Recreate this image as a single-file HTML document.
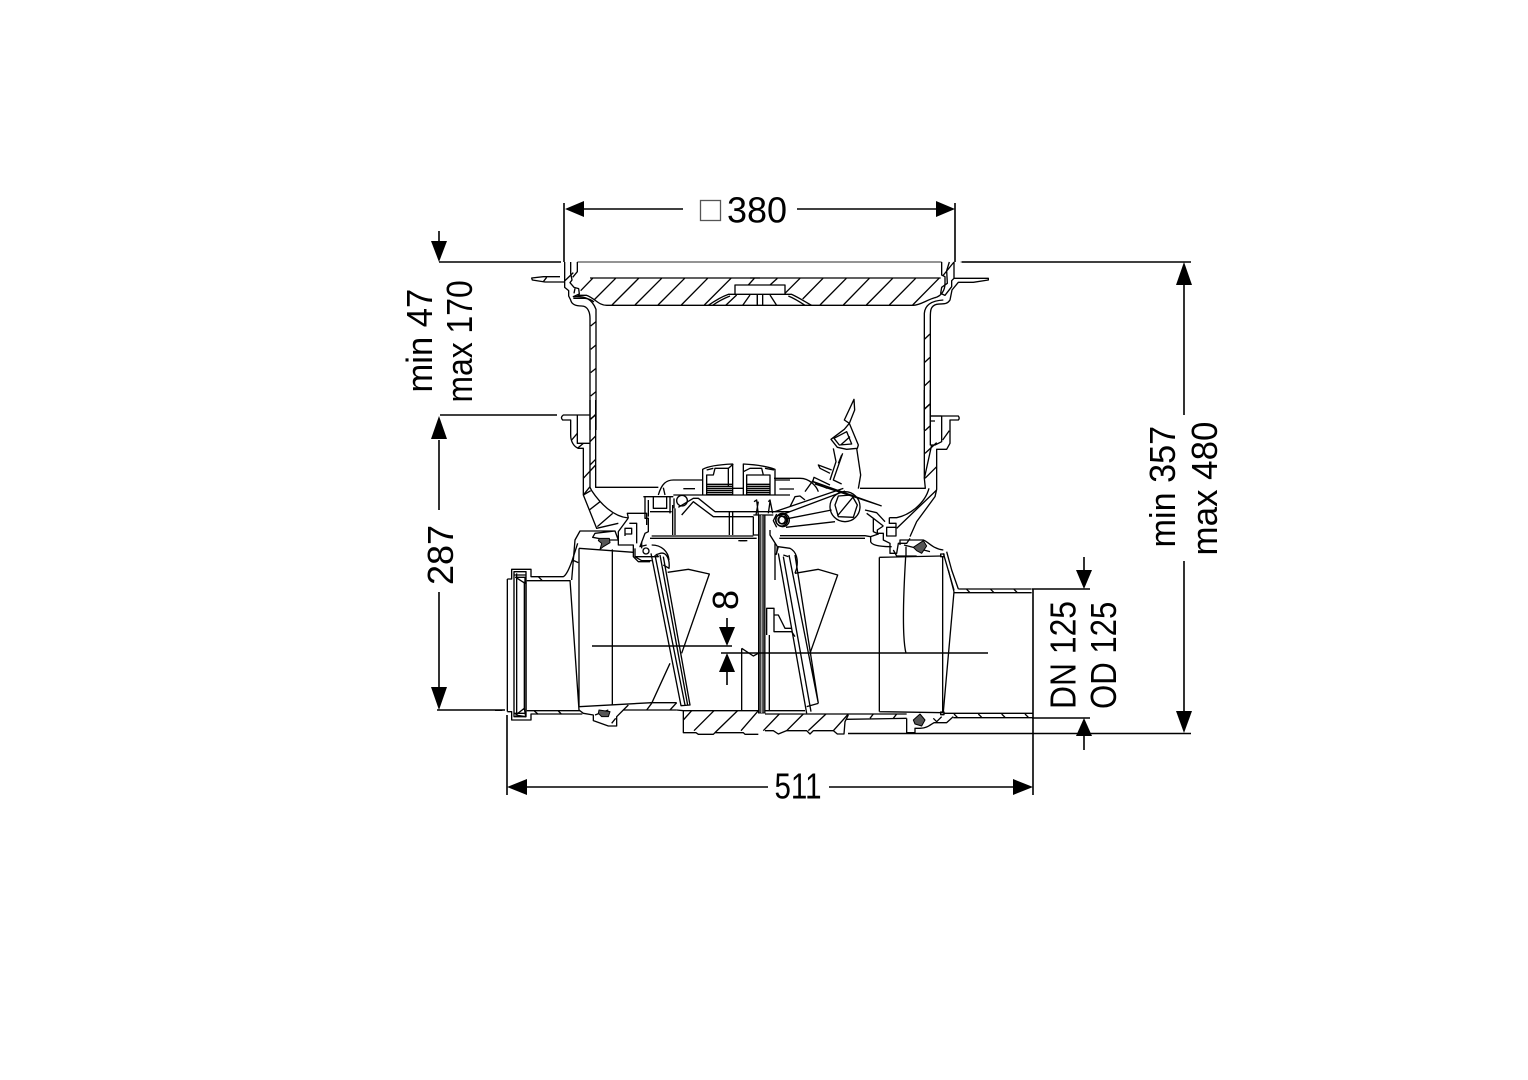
<!DOCTYPE html>
<html><head><meta charset="utf-8"><style>
html,body{margin:0;padding:0;background:#fff}
svg{display:block}
text{font-family:"Liberation Sans",sans-serif;font-size:36px;fill:#000}
.z path,.z circle,.z polygon,.z rect{fill:none;stroke:#000;stroke-width:4;stroke-linejoin:round}
.z .g{stroke:#555}
.z .f{fill:#555;stroke-width:3}
.d path{fill:none;stroke:#000;stroke-width:1.6}
.a polygon{fill:#000;stroke:none}
</style></head><body>
<svg width="1528" height="1080" viewBox="0 0 1528 1080" xmlns="http://www.w3.org/2000/svg">
<rect width="1528" height="1080" fill="#fff"/>

<!-- zoom 1 : top left -->
<g class="z" transform="translate(520,250) scale(.33333)">
<path class="g" d="M172 36H720" stroke-width="5"/>
<path d="M120 80H70L35 84L37 90L75 96H135M80 82L70 95"/>
<path d="M134 36V92L134 112L146 122L146 138L152 150C155 165 170 168 185 168C205 168 210 190 210 205V540"/>
<path d="M152 36V70L156 90L150 98L162 112L176 116L178 132L160 140C195 138 215 145 228 178L228 205V540"/>
<path d="M172 36V65L158 82M160 68L135 92"/>
<path d="M160 145H195C205 146 215 150 222 156M172 136H200C225 145 235 166 260 166H720"/>
<path d="M165 115L162 130M210 84H720M218 85L182 122M287 85L222 150M356 85L276 165M425 85L345 165M494 85L414 165M563 85L484 165M633 85L553 165M703 85L685 105M650 135L617 166M690 135L668 166M712 135V166"/>
<path d="M720 105H645V133H720M645 133H625C605 140 585 152 565 166M630 138C610 146 592 156 578 166"/>
<path d="M212 228L228 215M212 298L228 285M212 368L228 355M212 438L228 425M212 508L228 492"/>
</g>

<!-- zoom 2 : top right -->
<g class="z" transform="translate(750,250) scale(.33333)">
<path class="g" d="M0 36H575M632 36H720" stroke-width="5"/>
<path d="M0 84H572M30 166H490C510 166 530 150 555 143C575 138 585 120 585 100V80L575 75V36"/>
<path d="M598 36L590 62L592 100L575 112L572 130L585 136L605 110V92L612 85V36M612 36L578 78"/>
<path d="M612 85H715V90L670 97H625L606 120L600 150C590 165 580 160 560 163C540 168 541 185 541 205V540"/>
<path d="M523 540V190C525 165 545 152 580 150"/>
<path d="M150 85L105 130M219 85L158 147M289 85L210 165M358 85L280 165M428 85L349 165M497 85L418 165M567 85L488 165"/>
<path d="M30 105H105V133H30M105 133H125C145 142 165 155 185 166M115 138C135 146 150 156 165 166M22 135V166M38 135V166M60 135L80 166M60 105L82 85"/>
<path d="M523 268L540 252M523 338L540 322M523 408L540 392M523 478L540 462"/>
</g>

<!-- zoom 3 : left mid -->
<g class="z" transform="translate(550,400) scale(.33333)">
<path d="M120 0V130M137 0V262H325"/>
<path d="M120 45H40Q30 52 38 60H62V105C62 125 72 140 85 145H100V285L140 385L205 370"/>
<path d="M82 45V130H120V262L125 272C150 310 190 350 235 354M120 260L100 285"/>
<path d="M120 58L137 45M120 125L137 108M120 195L137 178M100 235L137 195M65 120L82 100M100 130L82 145M100 285L122 272M118 330L150 305M142 380L188 340"/>
<path d="M235 354L232 340H290V375M235 354L205 395L205 420L195 393L135 400L128 412L170 420L205 420L205 435L250 435V470L265 485H300M195 393H90L75 420L65 540"/>
<path d="M238 370H260V430M225 408V385H245V402H225M280 290H370M285 290V355L295 355V395L285 400L270 440L290 435M295 300V350M310 290V325H350V290M300 335H365M360 290V340M372 295V325"/>
<circle cx="396" cy="302" r="16"/>
<path d="M325 285C335 250 350 240 370 240H458M370 285H600M340 263L345 285M400 266H435"/>
<path d="M458 285V208Q480 195 548 192V285M470 285V225H490L495 205H535L550 192M470 210L490 205M535 205V260"/>
<path d="M470 253H548M470 259H548M470 265H548M470 271H548M470 277H548M470 283H548" stroke-width="2.5"/>
<path d="M580 285V192Q640 195 675 208V285M590 285V225H640L635 205H600L580 215M645 205L672 210M640 225H660V285"/>
<path d="M590 253H660M590 259H660M590 265H660M590 271H660M590 277H660M590 283H660" stroke-width="2.5"/>
<path d="M675 240H720M548 265H580M600 285H720"/>
<path d="M395 345L430 305L490 350H610M385 322L430 295H445L495 335H720"/>
<path d="M368 315V405M375 325V405M538 335V405M548 335V405M305 408H610M300 415H620"/>
<path d="M612 305L620 300L625 345M625 305L618 345M655 305L660 300L668 340M655 340L660 305"/>
<path d="M610 345H670M610 350V405L625 405"/>
<path d="M570 422H592"/>
<path d="M625 395H646M625 402H646"/>
<circle cx="695" cy="360" r="18"/><circle cx="695" cy="360" r="11"/>
<path class="f" d="M148 415L178 415L180 428L160 440L150 448L155 430L145 422Z"/>
</g>

<!-- zoom 4 : right mid -->
<g class="z" transform="translate(750,390) scale(.33333)">
<path d="M523 0V265L526 295H330M541 0V78H625Q630 85 625 90H600V160L590 178H560V298L555 320L500 395L480 440"/>
<path d="M541 78V165H555L575 155V78M575 78H541M541 93H555"/>
<path d="M537 295C525 340 480 375 440 383H418M523 265L545 165"/>
<path d="M525 55L540 42M525 122L540 108M525 190L560 158M525 265L560 230M578 150L598 122M440 415L560 300"/>
<path d="M243 148L283 118L298 100L283 90L312 28L314 60L298 100L325 165L322 175L290 178L262 172Z"/>
<path d="M252 145L290 125L305 162L268 165ZM272 165L300 140"/>
<path d="M320 175L332 255L325 296M250 175L258 215L240 270M278 190L250 270L275 282M265 220L275 195"/>
<path d="M245 240L205 225L210 235L240 250M240 285L192 262L188 275L232 295"/>
<path d="M190 275L395 348M195 282L390 346"/>
<path d="M75 365L280 295M85 378L285 303M108 412L255 395M112 386L245 360"/>
<path d="M80 372L70 392L80 412"/>
<circle cx="98" cy="390" r="20"/><circle cx="98" cy="390" r="12"/>
<circle cx="285" cy="350" r="45"/>
<path d="M255 345L265 318L305 315L322 345L310 382L265 380ZM262 378L310 320"/>
<path d="M72 265H150C180 265 200 290 205 305M190 270L165 305M120 350L135 320L150 318L165 330M88 297H132"/>
<path d="M60 420V435L82 470L80 490M90 437H345L362 440M88 445H345"/>
<path d="M350 370L370 385L400 408M345 360L380 368L405 395M370 385V425L385 432L362 440V455C365 465 385 470 425 470"/>
<path d="M418 383V400H438V420M400 408L382 420V430H400V450L420 460V490H440L445 460H470L480 445M410 412H438V438H410Z"/>
<path d="M450 465V450H520C535 455 545 475 580 480M462 465L540 485"/>
<path class="f" d="M490 472L520 452L530 468L515 490L500 482Z"/>
</g>

<!-- central bar -->
<rect x="758.5" y="515" width="6.5" height="198" fill="#444" stroke="#000" stroke-width="1"/>
<path d="M761.7 515V713" stroke="#bbb" stroke-width="1"/>

<!-- zoom 5 : bottom left -->
<g class="z" transform="translate(495,540) scale(.33333)">
<path d="M37 117V515M37 117H50V88H108V110H205C215 105 225 80 232 60L248 10"/>
<path d="M95 122H225M130 110L142 122"/>
<path d="M37 515H50V540H108V522H262M95 512H255M118 513L130 523M190 513L200 523M0 511H22"/>
<path d="M57 95H93V530H57ZM65 100V525M58 105H92M58 520H92"/>
<path d="M62 112L90 130L90 112ZM62 525L88 505L92 530Z"/>
<path d="M88 125V510M93 125V510" stroke-width="5"/>
<path d="M225 120L252 510M252 25V500M352 28V495M252 25L415 37M252 500L470 488H545"/>
<path d="M232 60L250 68"/>
<path d="M252 510L265 520L295 525V542L340 558H365L365 530L385 510H545M340 510L300 525"/>
<path class="f" d="M312 510L345 515L340 530L320 530L310 520Z"/>
<path d="M362 535L350 550M385 510L400 495M455 510L470 490M525 510L545 488"/>
<path d="M468 40L558 497L585 495L505 50M480 45L570 495M495 45L578 495"/>
<path d="M420 25V50H490C490 45 475 45 490 42C515 30 525 60 522 85L505 75M420 50L440 62H470M440 5V25M470 15C500 15 520 35 522 60"/>
<path d="M518 97L580 88L643 102L560 340M525 370L470 490"/>
<path d="M545 510L565 512H790M565 512V578H603L610 583H655L660 578H745L750 583H790"/>
<path d="M657 512L597 572M728 512L660 578M790 512L738 572M565 540L590 512"/>
<path d="M740 325V510M740 325L775 348L790 340"/>
<circle cx="453" cy="33" r="9"/>
<path d="M730 2H752"/>
</g>

<!-- zoom 6 : bottom right -->
<g class="z" transform="translate(750,540) scale(.33333)">
<path d="M85 40L170 520M100 50L183 515M117 45L205 490M135 45L205 490M205 490L170 500"/>
<path d="M78 45L85 20L120 25C140 35 145 60 140 85L135 100M100 45L115 50M75 10V120"/>
<path d="M135 100L205 88L263 105L180 340"/>
<path d="M50 285V205H72V275H125L135 290M72 225H85L105 265H125"/>
<path d="M58 285V510M45 512H165"/>
<path d="M45 522H470M45 572H70L85 582L110 572H170L180 582L190 572H250L262 582H282L285 545L295 525"/>
<path d="M88 522L40 572M160 522L110 572M228 522L175 572M295 522L250 572"/>
<path d="M290 538L470 535"/>
<path d="M388 52V515M388 52L575 48M388 515L580 518M578 48V520"/>
<path d="M467 50C458 200 458 300 468 340"/>
<path d="M612 155L580 515M595 90L612 155"/>
<path d="M625 147H845M612 158H845M650 148L660 158M722 148L732 158M792 148L802 158"/>
<path d="M625 147L605 90L590 35M580 40L612 150"/>
<path d="M580 520H849M610 533H849M612 522L622 532M685 522L695 532M755 522L765 532M825 522L835 532M360 535L370 522M430 535L440 522"/>
<path d="M470 535V578H495V565L510 565C530 565 540 555 552 548H590L610 530M550 535L560 545L575 530"/>
<path class="f" d="M490 540L510 522L525 540L515 558L495 552Z"/>
<path d="M468 20V50M430 30L440 48H500"/>
<rect x="572" y="42" width="10" height="8"/>
<rect x="572" y="516" width="10" height="8"/>
</g>

<!-- dimension lines -->
<g class="d">
<path d="M564 203V262M955 203V262"/>
<path d="M580 209H683M797 209H940"/>
<path d="M439 231V242M439 262H561M440 415H557M439 440V510M439 592V690M437 710H505"/>
<path d="M962 262H1191M1184 285V415M1184 561V712M848 733.5H1191"/>
<path d="M1032 589H1090M1084 557V572M1032 718H1090M1084 735V750M1033 589V795M507 715V795"/>
<path d="M522 787H768M829 787H1018"/>
<path d="M727 618V630M727 670V685"/>
<path d="M592 646H732" stroke-width="2"/>
<path d="M721 653H988"/>
</g>
<g class="a">
<polygon points="565,209 584,201 584,217"/>
<polygon points="955,209 936,201 936,217"/>
<polygon points="439,262 431,241 447,241"/>
<polygon points="439,416 431,439 447,439"/>
<polygon points="439,710 431,687 447,687"/>
<polygon points="1184,262 1176,285 1192,285"/>
<polygon points="1184,733 1176,711 1192,711"/>
<polygon points="1084,589 1076,570 1092,570"/>
<polygon points="1084,718 1076,736 1092,736"/>
<polygon points="507,787 527,779 527,795"/>
<polygon points="1033,787 1013,779 1013,795"/>
<polygon points="727,646 719,627 735,627"/>
<polygon points="727,653 719,672 735,672"/>
</g>

<!-- labels -->
<rect x="700.5" y="200.5" width="20" height="20" fill="none" stroke="#555" stroke-width="1.3"/>
<text x="757" y="222.5" text-anchor="middle">380</text>
<text transform="translate(774.5,798.5) scale(.82,1)">511</text>
<text transform="translate(432,392.5) rotate(-90) scale(.96,1)">min 47</text>
<text transform="translate(472,402.5) rotate(-90) scale(.885,1)">max 170</text>
<text transform="translate(453,555) rotate(-90)" text-anchor="middle">287</text>
<text transform="translate(1175,547.5) rotate(-90) scale(.95,1)">min 357</text>
<text transform="translate(1217,555.5) rotate(-90) scale(.97,1)">max 480</text>
<text transform="translate(1075.5,709) rotate(-90) scale(.885,1)">DN 125</text>
<text transform="translate(1116,709) rotate(-90) scale(.865,1)">OD 125</text>
<text transform="translate(738,600) rotate(-90)" text-anchor="middle">8</text>
</svg>
</body></html>
